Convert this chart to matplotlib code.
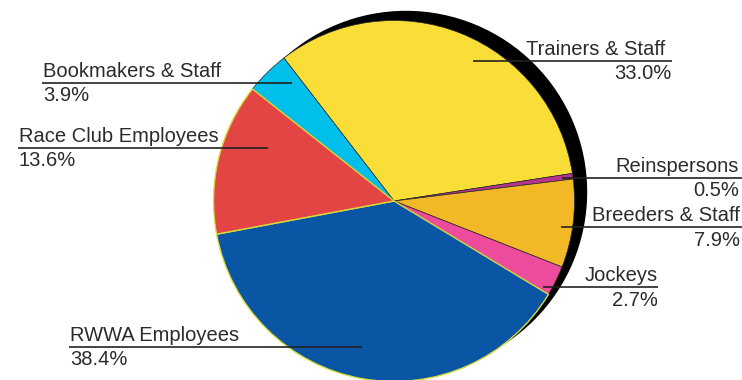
import numpy as np
from matplotlib import pyplot as plt
from matplotlib.patches import Circle

plt.rcParams['font.family'] = ['Liberation Sans', 'DejaVu Sans']

# workforce share by group, clockwise from the top
groups = ["Trainers & Staff", "Reinspersons", "Breeders & Staff", "Jockeys",
          "RWWA Employees", "Race Club Employees", "Bookmakers & Staff"]
shares = [33.0, 0.5, 7.9, 2.7, 38.4, 13.6, 3.9]
colours = ["#F9DE37", "#B8338F", "#F2B826", "#EC4C9B",
           "#0A56A5", "#E24543", "#00BFEB"]

W, H = 742, 380
fig = plt.figure(figsize=(W / 100, H / 100), dpi=100)
ax = fig.add_axes([0, 0, 1, 1])

cx, cy, r = 394, H - 201, 180.5

# drop shadow behind the pie
ax.add_patch(Circle((cx + 12, cy + 9), r, color='black', zorder=1))

wedges, _ = ax.pie(shares, colors=colours, startangle=127.6, counterclock=False,
                   center=(cx, cy), radius=r, frame=True,
                   wedgeprops=dict(edgecolor='#2a2a2a', linewidth=0.5))
for w in wedges:
    w.set_zorder(2)
for i in (4, 5):
    wedges[i].set_edgecolor('#D9DD3C')
    wedges[i].set_linewidth(1.0)
    wedges[i].set_zorder(3)
ax.set_xlim(0, W)
ax.set_ylim(0, H)
ax.set_aspect('equal')
ax.axis('off')

txt = dict(fontsize=14.5, color='#2b2b2b', zorder=5)

def label(i, x0, x1, y, side, tx=None, px=None):
    # leader rule with the group name above and its share below
    ax.plot([x0, x1], [H - y, H - y], color='#222222', lw=1.2, zorder=4,
            solid_capstyle='butt')
    pct = "%.1f%%" % shares[i]
    if side == 'left':
        ax.text(x0 + 1, H - y + 6, groups[i], ha='left', va='baseline', **txt)
        ax.text(x0 + 1, H - y - 18.7, pct, ha='left', va='baseline', **txt)
    else:
        ax.text(tx or x1, H - y + 6, groups[i], ha='right', va='baseline', **txt)
        ax.text(px or x1, H - y - 18.7, pct, ha='right', va='baseline', **txt)

label(0, 473, 672, 60.7, 'right', tx=665, px=671)
label(1, 562, 742, 177.7, 'right', tx=739, px=739)
label(2, 561, 742, 227, 'right', tx=740, px=740)
label(3, 543, 658, 287, 'right')
label(4, 69, 362, 346.7, 'left')
label(5, 18, 268, 147.7, 'left')
label(6, 42, 292, 82.7, 'left')

fig.savefig('out.png', dpi=100)
